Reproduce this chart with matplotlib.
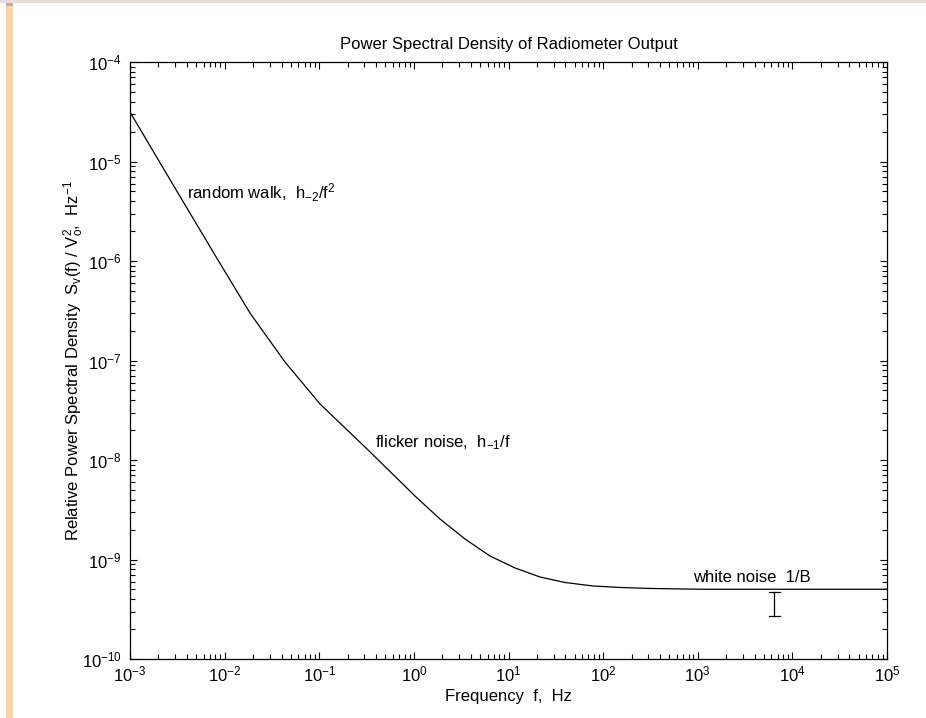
import matplotlib
matplotlib.use("Agg")
import matplotlib.pyplot as plt
import numpy as np
from matplotlib.ticker import LogLocator, NullFormatter
from matplotlib.patches import Rectangle

plt.rcParams['font.family'] = ['Liberation Sans', 'DejaVu Sans']
plt.rcParams['mathtext.fontset'] = 'custom'
plt.rcParams['mathtext.rm'] = 'Liberation Sans'
plt.rcParams['mathtext.it'] = 'Liberation Sans'
plt.rcParams['mathtext.bf'] = 'Liberation Sans:bold'

# Curve: log10(frequency) and log10(relative PSD)
log_freq = [-3.000, -2.493, -2.102, -1.732, -1.362, -0.992, -0.495, 0.012, 0.276,
            0.540, 0.805, 1.069, 1.333, 1.597, 1.893, 2.178, 2.495, 3.024, 5.000]
log_psd = [-4.503, -5.317, -5.940, -6.523, -7.015, -7.437, -7.889, -8.362, -8.593,
           -8.794, -8.965, -9.085, -9.176, -9.231, -9.266, -9.281, -9.291, -9.299, -9.299]

freq = [10 ** v for v in log_freq]
psd = [10 ** v for v in log_psd]

# Error bar on white-noise level
err_f = 6470
err_top = 4.74e-10
err_bottom = 2.69e-10

FS = 12

fig = plt.figure(figsize=(9.26, 7.18), dpi=100)
fig.patch.set_facecolor('white')

# decorative left strip and top border
fig.patches.append(Rectangle((6 / 926, 0), 7 / 926, 1 - 4 / 718, transform=fig.transFigure,
                             facecolor='#FBD3A6', edgecolor='none', zorder=0))
fig.patches.append(Rectangle((0, 1 - 3 / 718), 1, 3 / 718, transform=fig.transFigure,
                             facecolor='#E6DED4', edgecolor='none', zorder=0))
fig.patches.append(Rectangle((6 / 926, 1 - 6 / 718), 7 / 926, 3 / 718, transform=fig.transFigure,
                             facecolor='#B8B0A8', edgecolor='none', zorder=0))

ax = fig.add_axes([130 / 926, 1 - 659 / 718, 757 / 926, 597 / 718])
ax.plot(freq, psd, color='black', lw=0.9)
ax.set_xscale('log')
ax.set_yscale('log')
ax.set_xlim(1e-3, 1e5)
ax.set_ylim(1e-10, 1e-4)

# error bar
ax.plot([err_f, err_f], [err_bottom, err_top], color='black', lw=0.9)
for yv in (err_bottom, err_top):
    ax.plot([err_f * 0.88, err_f * 1.13], [yv, yv], color='black', lw=0.9)

ax.xaxis.set_major_locator(LogLocator(base=10, numticks=20))
ax.yaxis.set_major_locator(LogLocator(base=10, numticks=20))
ax.xaxis.set_minor_locator(LogLocator(base=10, subs=np.arange(2, 10), numticks=100))
ax.yaxis.set_minor_locator(LogLocator(base=10, subs=np.arange(2, 10), numticks=100))
ax.xaxis.set_minor_formatter(NullFormatter())
ax.yaxis.set_minor_formatter(NullFormatter())
ax.tick_params(which='both', direction='in', top=True, right=True, width=0.8, labelsize=FS)
ax.tick_params(which='major', length=5)
ax.tick_params(which='minor', length=3.4)
ax.tick_params(axis='x', pad=4)
ax.tick_params(axis='y', pad=6)
for s in ax.spines.values():
    s.set_linewidth(0.9)

fig.text(508.5 / 926, 1 - 45 / 718, 'Power Spectral Density of Radiometer Output',
         fontsize=FS, ha='center', va='center')
ax.set_xlabel('Frequency  f,  Hz', fontsize=FS, va='center')
ax.xaxis.set_label_coords(0.5, -(697 - 659) / 597)
ax.set_ylabel(r'Relative Power Spectral Density  S$_{\rm v}$(f) / V$_{\rm o}^{2}$,  Hz$^{-1}$',
              fontsize=FS, va='center')
ax.yaxis.set_label_coords(-(130 - 74) / 757, 0.5)

ax.text(0.00398, 10 ** -5.31, r'random walk,  h$_{-2}$/f$^{2}$', fontsize=FS, va='center', ha='left')
ax.text(0.389, 10 ** -7.83, r'flicker noise,  h$_{-1}$/f', fontsize=FS, va='center', ha='left')
ax.text(10 ** 2.955, 10 ** -9.18, 'white noise  1/B', fontsize=FS, va='center', ha='left')

fig.savefig('out.png', dpi=100)
